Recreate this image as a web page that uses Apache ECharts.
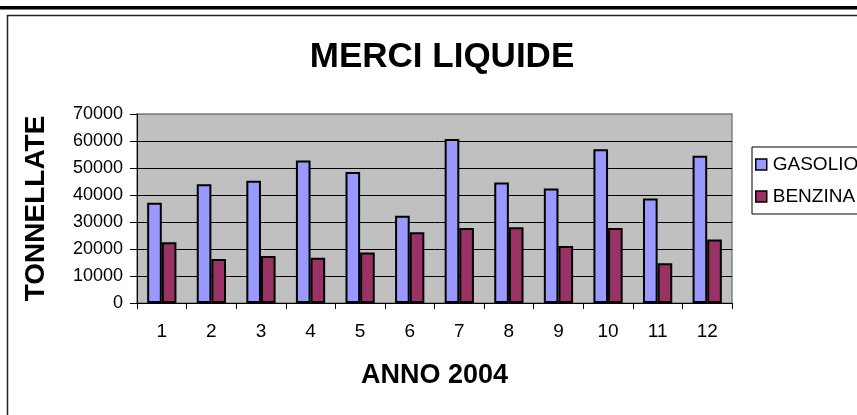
<!DOCTYPE html>
<html>
<head>
<meta charset="utf-8">
<script src="https://cdn.jsdelivr.net/npm/echarts@6/dist/echarts.min.js"></script>
<style>
html,body{margin:0;padding:0;background:#fff;}
#chart{width:857px;height:415px;}
</style>
</head>
<body>
<div id="chart"></div>
<script>
const categories = ['1','2','3','4','5','6','7','8','9','10','11','12'];
const gasolio = [37100, 44000, 45300, 52800, 48500, 32300, 60700, 44600, 42400, 56900, 38700, 54500];
const benzina = [22500, 16300, 17400, 16800, 18700, 26200, 27800, 28100, 21100, 27800, 14700, 23500];
const seriesNames = ['GASOLIO', 'BENZINA'];
const chartTitle = 'MERCI LIQUIDE';
const xTitle = 'ANNO 2004';
const yTitle = 'TONNELLATE';

const FONT = '"Liberation Sans", Arial, sans-serif';
const chart = echarts.init(document.getElementById('chart'));
const gridColors = ['#000','#000','#000','#000','#000','#000','#000','#808080'];

chart.setOption({
  animation: false,
  backgroundColor: '#fff',
  textStyle: { fontFamily: FONT, color: '#000' },
  title: {
    text: chartTitle,
    left: 437, textAlign: 'center',
    top: 35,
    textStyle: { fontFamily: FONT, fontSize: 35, fontWeight: 'bold', color: '#000' }
  },
  graphic: [
    { type: 'rect', shape: { x: 0, y: 6, width: 857, height: 3.5 }, style: { fill: '#000' }, silent: true },
    { type: 'rect', shape: { x: 7.5, y: 15.5, width: 900, height: 450 }, style: { fill: null, stroke: '#222', lineWidth: 1.5 }, silent: true, z: -1 }
  ],
  legend: {
    orient: 'vertical',
    left: 752, top: 147,
    padding: [8, 20, 8, 3],
    borderColor: '#000', borderWidth: 1,
    backgroundColor: '#fff',
    itemWidth: 11, itemHeight: 11, itemGap: 13,
    icon: 'rect',
    textStyle: { fontFamily: FONT, fontSize: 19, color: '#000', padding: [0,0,0,1] },
    itemStyle: { borderColor: '#000', borderWidth: 1.5 },
    data: seriesNames
  },
  grid: {
    left: 137, top: 114, right: 125, bottom: 112,
    show: true, backgroundColor: '#c0c0c0', borderColor: '#808080', borderWidth: 1.5
  },
  xAxis: {
    type: 'category',
    data: categories,
    name: xTitle,
    nameLocation: 'middle',
    nameGap: 59,
    nameTextStyle: { fontFamily: FONT, fontSize: 27, fontWeight: 'bold', color: '#000' },
    axisLine: { show: true, lineStyle: { color: '#000', width: 1 } },
    axisTick: { show: true, length: 6, alignWithLabel: false, interval: 0, lineStyle: { color: '#000' } },
    axisLabel: { fontFamily: FONT, fontSize: 19, color: '#000', margin: 19, interval: 0 },
    splitLine: { show: false }
  },
  yAxis: {
    type: 'value',
    min: 0, max: 70000, interval: 10000,
    name: yTitle,
    nameLocation: 'middle',
    nameGap: 87,
    nameRotate: 90,
    nameTextStyle: { fontFamily: FONT, fontSize: 28, fontWeight: 'bold', color: '#000' },
    axisLine: { show: true, lineStyle: { color: '#000', width: 1 } },
    axisTick: { show: true, length: 7, lineStyle: { color: '#000' } },
    axisLabel: { fontFamily: FONT, fontSize: 18, color: '#000', margin: 14, formatter: function (v) { return String(v); } },
    splitLine: { show: true, lineStyle: { color: gridColors, width: 1 } }
  },
  series: [
    {
      name: seriesNames[0], type: 'bar', data: gasolio,
      barGap: '0%', barCategoryGap: '41%',
      itemStyle: { color: '#9999ff', borderColor: '#000', borderWidth: 2 }
    },
    {
      name: seriesNames[1], type: 'bar', data: benzina,
      barGap: '0%', barCategoryGap: '41%',
      itemStyle: { color: '#993366', borderColor: '#000', borderWidth: 2 }
    }
  ]
});
</script>
</body>
</html>
